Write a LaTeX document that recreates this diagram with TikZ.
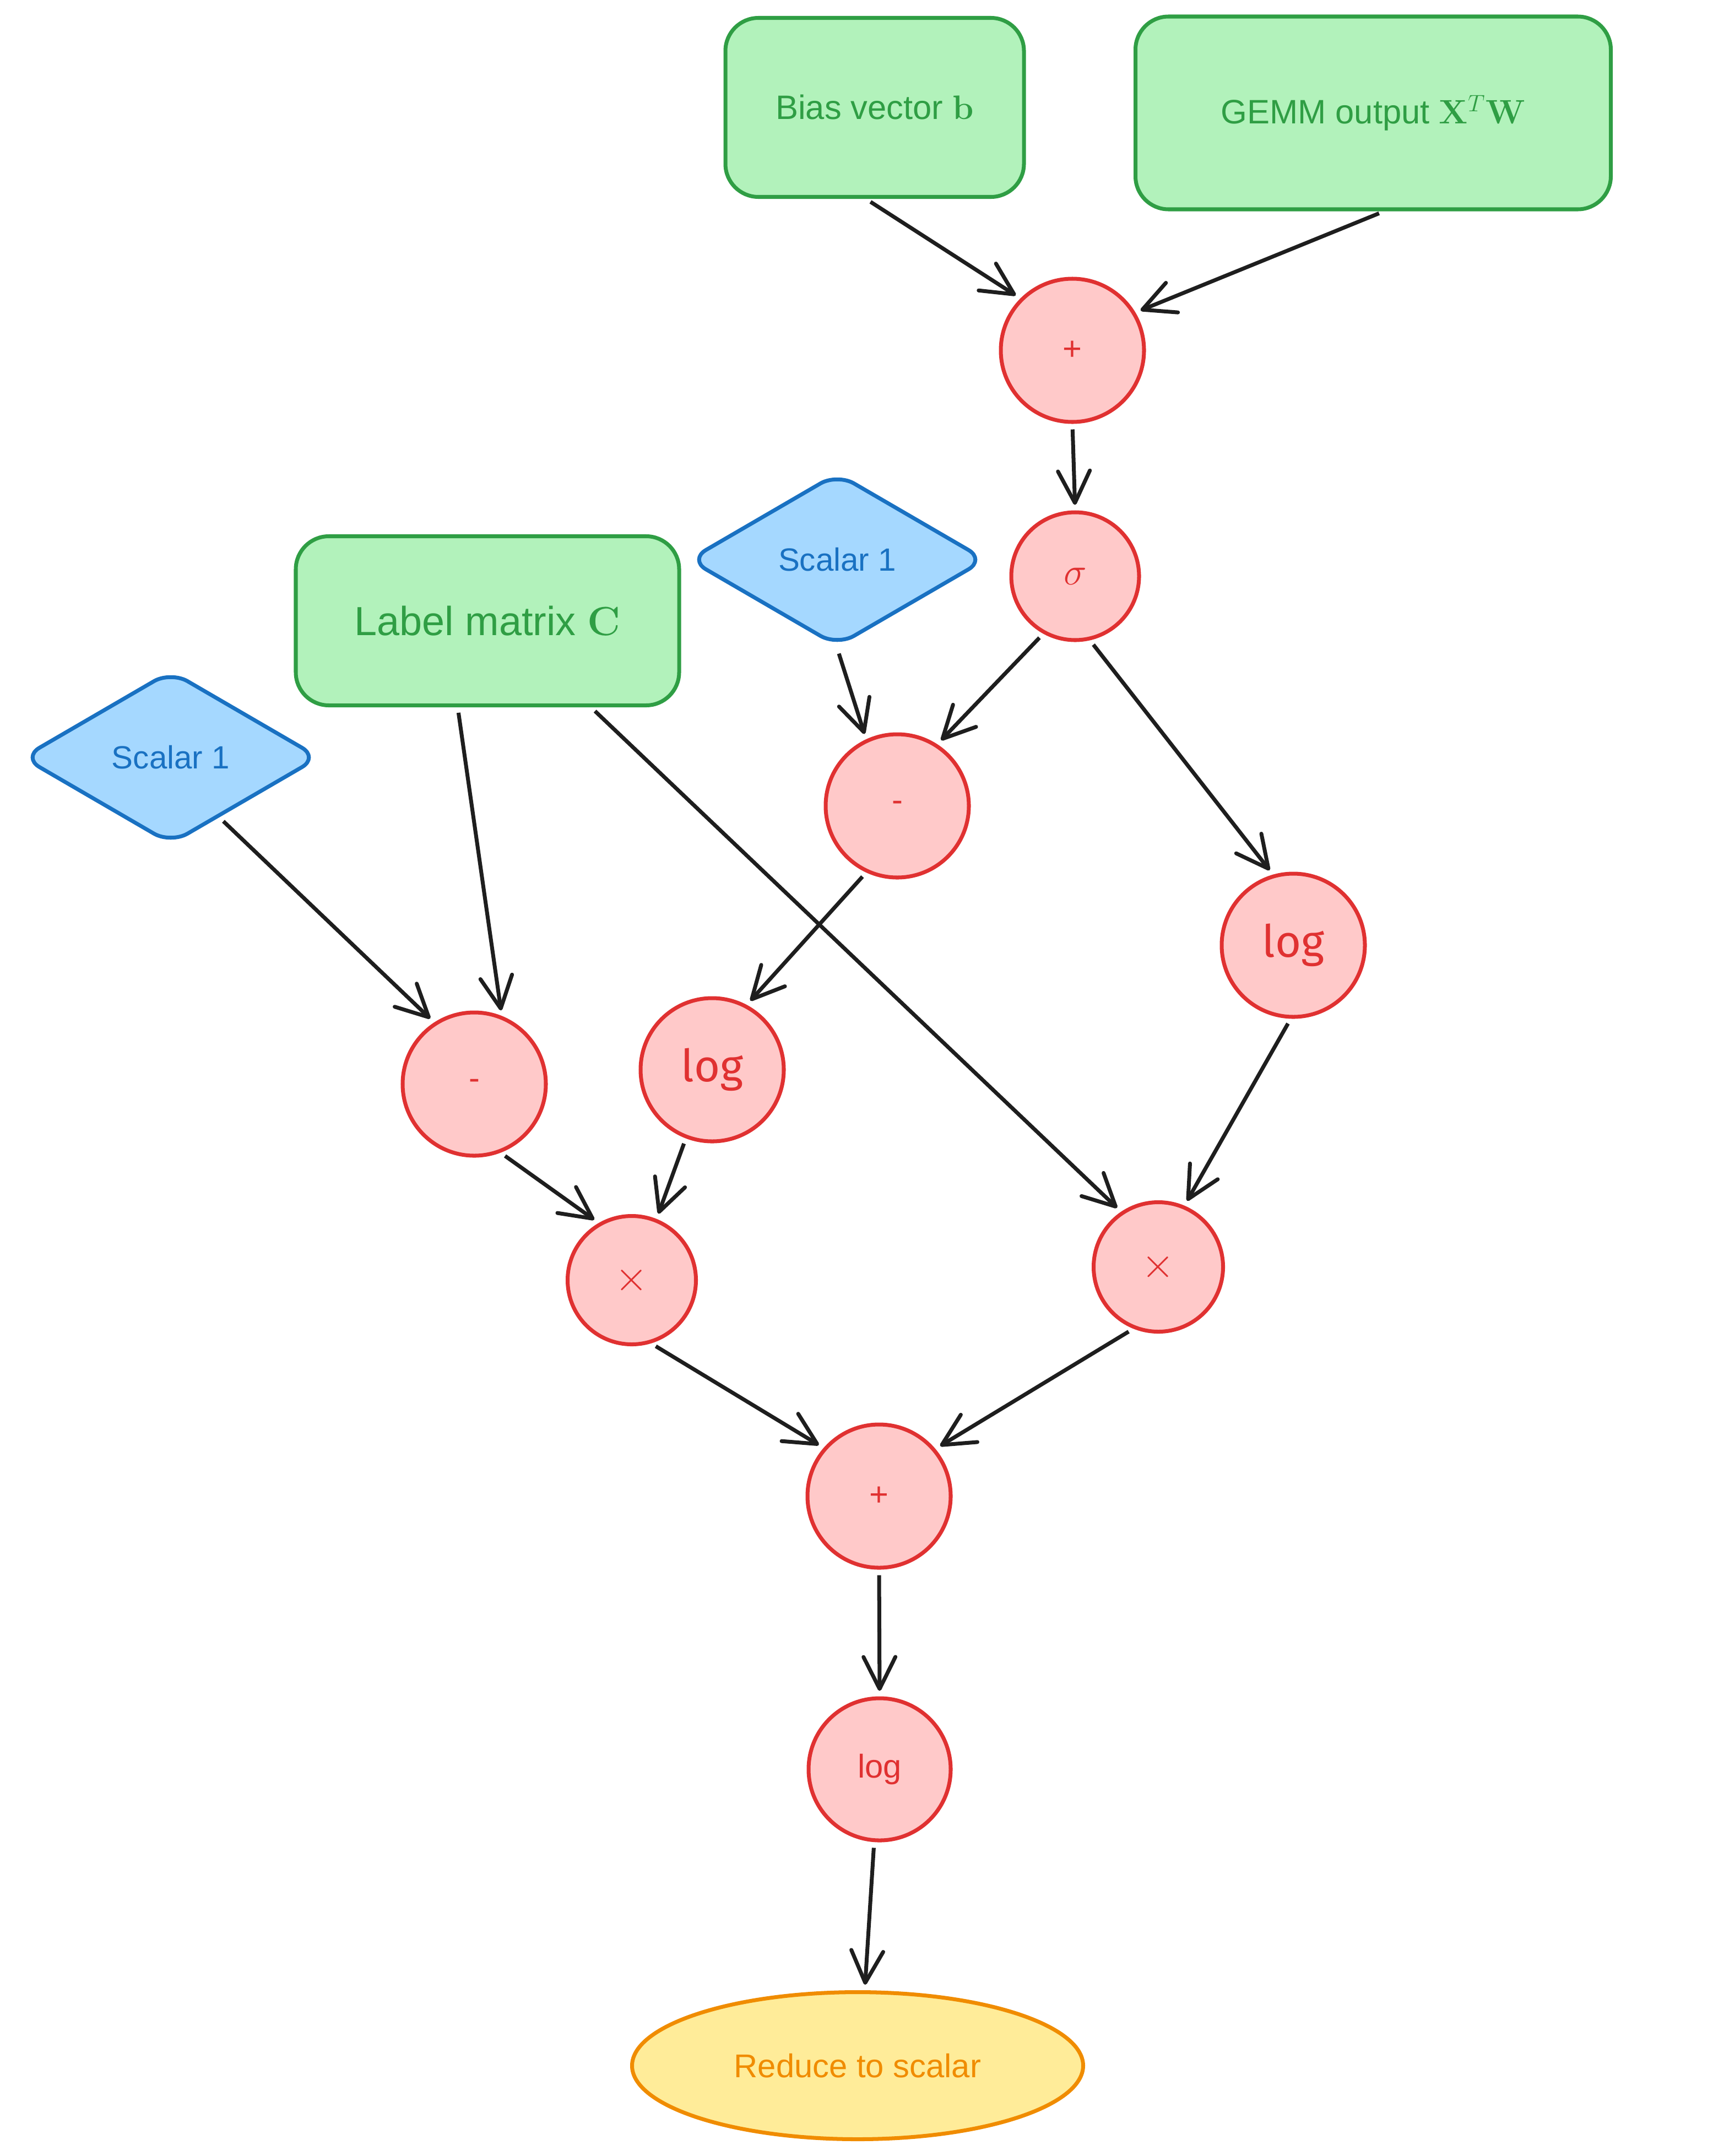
\RequirePackage{fix-cm}
\documentclass[tikz,border=0pt]{standalone}
\usepackage{amsmath}
\usepackage[no-math]{fontspec}
\setmainfont{Liberation Sans}
\newfontfamily\roundfont{Fira Sans}
\usetikzlibrary{shapes.geometric,arrows.meta}

\definecolor{boxgreen}{HTML}{B2F2BB}
\definecolor{linegreen}{HTML}{2F9E44}
\definecolor{boxblue}{HTML}{A5D8FF}
\definecolor{lineblue}{HTML}{1971C2}
\definecolor{boxred}{HTML}{FFC9C9}
\definecolor{linered}{HTML}{E03131}
\definecolor{boxyellow}{HTML}{FFEC99}
\definecolor{lineorange}{HTML}{F08C00}
\definecolor{ink}{HTML}{1E1E1E}

\begin{document}
\begin{tikzpicture}[
		inputbox/.style={draw=linegreen, fill=boxgreen, text=linegreen, line width=2pt, rounded corners=0.6cm, font=\fontsize{17.5}{21}\selectfont},
		scalarbox/.style={diamond, draw=lineblue, fill=boxblue, text=lineblue, line width=2pt, rounded corners=0.35cm, minimum width=5.4cm, minimum height=3.15cm, font=\fontsize{16.6}{20}\selectfont},
		opnode/.style={circle, draw=linered, fill=boxred, text=linered, line width=2pt, minimum size=2.6cm, inner sep=0pt, font=\fontsize{17}{20}\selectfont},
		flow/.style={draw=ink, line width=2pt, -{Straight Barb[round, length=5.8mm, width=5.8mm]}, shorten >=1mm, shorten <=1mm}
	]
			\useasboundingbox (0,0) rectangle (31.30,-39.14);

			\node [inputbox, minimum width=5.42cm, minimum height=3.25cm] (bias) at (15.88,-1.95) {Bias vector $\mathbf{b}$};
			\node [inputbox, minimum width=8.63cm, minimum height=3.5cm] (gemm) at (24.93,-2.05) {GEMM output $\mathbf{X}^T\mathbf{W}$};
			\node [inputbox, minimum width=6.96cm, minimum height=3.07cm, font=\fontsize{21}{25}\selectfont] (labelC) at (8.85,-11.27) {Label matrix $\mathbf{C}$};
			\node [scalarbox] (scalarR) at (15.20,-10.16) {Scalar 1};
			\node [scalarbox] (scalarL) at (3.10,-13.75) {Scalar 1};

			\node [opnode] (plusT) at (19.47,-6.36) {+};
			\node [opnode, minimum size=2.32cm, font=\fontsize{20}{24}\selectfont] (sigma) at (19.52,-10.46) {$\sigma$};
			\node [opnode] (minusR) at (16.29,-14.63) {-};
			\node [opnode, font=\roundfont\fontsize{23}{26}\selectfont] (logR) at (23.48,-17.16) {log};
			\node [opnode] (minusL) at (8.61,-19.68) {-};
			\node [opnode, font=\roundfont\fontsize{23}{26}\selectfont] (logM) at (12.93,-19.42) {log};
			\node [opnode, minimum size=2.33cm, font=\fontsize{22}{26}\selectfont] (timesL) at (11.47,-23.24) {$\times$};
			\node [opnode, minimum size=2.35cm, font=\fontsize{22}{26}\selectfont] (timesR) at (21.03,-23.00) {$\times$};
			\node [opnode] (plusB) at (15.96,-27.16) {+};
			\node [opnode, minimum size=2.58cm] (logB) at (15.97,-32.12) {log};

			\node [ellipse, draw=lineorange, fill=boxyellow, text=lineorange, line width=2pt, minimum width=8.19cm, minimum height=2.67cm, font=\fontsize{17}{20}\selectfont] (reduce) at (15.57,-37.50) {Reduce to scalar};

			\draw [flow] ([xshift=-0.16cm]bias.south) -- (plusT.135);
			\draw [flow] ([xshift=0.2cm]gemm.south) -- (plusT.31);
			\draw [flow] (plusT.south) -- (sigma.north);
			\draw [flow] (sigma.241) -- (minusR.57);
			\draw [flow] (sigma.283) -- (logR.106);
			\draw [flow] (scalarR.south) -- (minusR.115);
			\draw [flow] (minusR.245) -- (logM.62);
			\draw [flow] (logR.268) -- (timesR.67);
			\draw [flow] ([xshift=-0.54cm]labelC.south) -- (minusL.68);
			\draw [flow] ([xshift=1.88cm]labelC.south) -- (timesR.124);
			\draw [flow] (scalarL.-51) -- (minusL.123);
			\draw [flow] (minusL.291) -- (timesL.120);
			\draw [flow] (logM.249) -- (timesL.68);
			\draw [flow] (timesL.287) -- (plusB.139);
			\draw [flow] (timesR.248) -- (plusB.40);
			\draw [flow] (plusB.south) -- (logB.north);
			\draw [flow] ([xshift=-0.1cm]logB.south) -- ([xshift=0.13cm]reduce.north);
		\end{tikzpicture}
\end{document}
